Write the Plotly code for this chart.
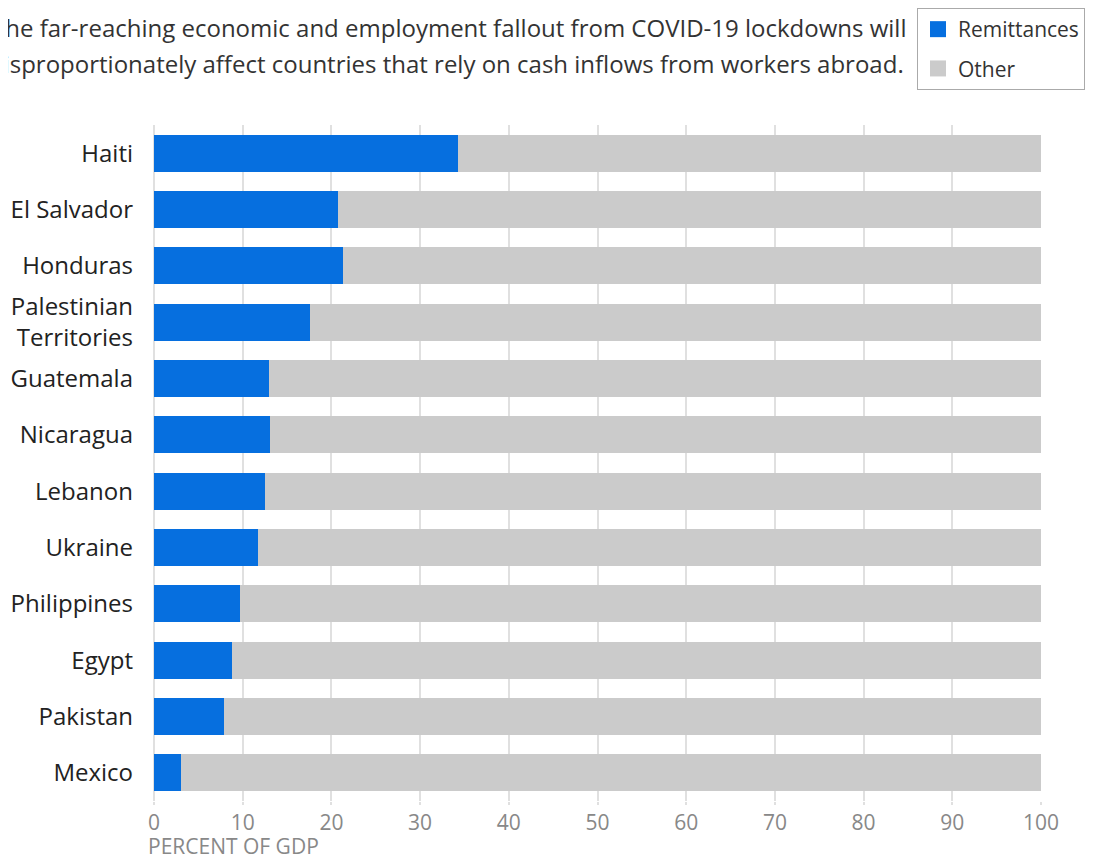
import plotly.graph_objects as go

countries = ["Haiti", "El Salvador", "Honduras", "Palestinian<br>Territories", "Guatemala",
             "Nicaragua", "Lebanon", "Ukraine", "Philippines", "Egypt", "Pakistan", "Mexico"]
remittances = [34.3, 20.7, 21.3, 17.6, 13.0, 13.1, 12.5, 11.7, 9.7, 8.8, 7.9, 3.0]
other = [round(100 - r, 1) for r in remittances]
x_ticks = [0, 10, 20, 30, 40, 50, 60, 70, 80, 90, 100]
title_lines = ["The far-reaching economic and employment fallout from COVID-19 lockdowns will",
               "disproportionately affect countries that rely on cash inflows from workers abroad."]

BLUE = "#066fdf"
GRAY = "#cbcbcb"
FONT = "Open Sans"

OFF = 8  # page body margin
W, H = 1094 - OFF, 859 - OFF
ML, MR, MT, MB = 146, 53, 117, 58
PW, PH = W - ML - MR, H - MT - MB


def px_x(sx):
    return (sx - OFF - ML) / PW


def px_y(sy):
    return (H - MB - (sy - OFF)) / PH


fig = go.Figure()
fig.add_trace(go.Bar(y=countries, x=remittances, orientation="h", name="Remittances",
                     marker=dict(color=BLUE, line=dict(width=0)), showlegend=False))
fig.add_trace(go.Bar(y=countries, x=other, orientation="h", name="Other",
                     marker=dict(color=GRAY, line=dict(width=0)), showlegend=False))
# legend proxies
fig.add_trace(go.Scatter(x=[None], y=[None], mode="markers", name="Remittances", legendgroup="a",
                         marker=dict(symbol="square", size=20, color=BLUE)))
fig.add_trace(go.Scatter(x=[None], y=[None], mode="markers", name="Other", legendgroup="b",
                         marker=dict(symbol="square", size=20, color=GRAY)))

fig.update_layout(
    width=W, height=H,
    barmode="stack", bargap=0.34,
    plot_bgcolor="white", paper_bgcolor="white",
    margin=dict(l=ML, r=MR, t=MT, b=MB, autoexpand=False),
    font=dict(family=FONT, color="#222", size=24),
    legend=dict(xref="paper", yref="paper", x=px_x(917), y=px_y(OFF),
                xanchor="left", yanchor="top", bordercolor="#aaaaaa", borderwidth=1,
                font=dict(size=21, color="#333"), itemsizing="trace",
                traceorder="grouped", tracegroupgap=9),
    xaxis=dict(range=[0, 100], tickvals=x_ticks, showgrid=True, gridcolor="#e0e0e0",
               gridwidth=2, zeroline=True, zerolinecolor="#e0e0e0", zerolinewidth=2,
               ticks="outside", ticklen=3, tickcolor="#e0e0e0", tickwidth=2,
               tickfont=dict(family=FONT, size=21, color="#888888"), fixedrange=True,
               automargin=False),
    yaxis=dict(autorange="reversed", showgrid=False, ticks="", ticklabelstandoff=20,
               tickfont=dict(size=24, color="#222"), automargin=False),
)

fig.add_annotation(xref="paper", yref="paper", x=px_x(146), y=px_y(846),
                   xanchor="left", yanchor="middle", showarrow=False,
                   text="PERCENT OF GDP", font=dict(family=FONT, size=21, color="#888888"))

for i, line in enumerate(title_lines):
    fig.add_annotation(xref="paper", yref="paper", x=px_x(-10 if i == 0 else -13),
                       y=px_y(27 + 37 * i),
                       xanchor="left", yanchor="middle", align="left", showarrow=False,
                       text=line, font=dict(size=24, color="#333"))

fig.write_html("out.html")
